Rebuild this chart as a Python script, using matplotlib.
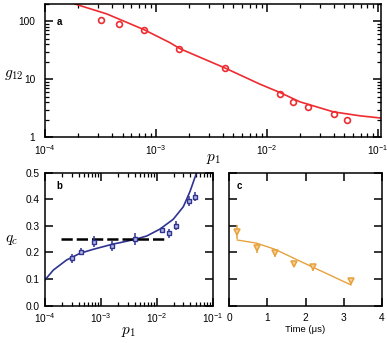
import matplotlib
matplotlib.use("Agg")
import numpy as np
import matplotlib.pyplot as plt
from matplotlib.ticker import (LogLocator, NullFormatter, MultipleLocator, FixedLocator,
                               FuncFormatter, FormatStrFormatter)

plt.rcParams['font.family'] = ['Liberation Sans', 'DejaVu Sans']
plt.rcParams['mathtext.fontset'] = 'cm'

# ---- Panel a data ----
a_p1 = [3.2e-4, 4.65e-4, 7.85e-4, 1.63e-3, 4.2e-3, 0.01315, 0.0171, 0.0234, 0.0401, 0.0525]
a_g12 = [108, 89.5, 71.7, 32.9, 15.5, 5.61, 4.09, 3.28, 2.54, 1.98]
a_fit_p1 = [1.86e-4, 3.6e-4, 7.85e-4, 1.34e-3, 1.65e-3, 4.2e-3, 8.7e-3, 0.01315, 0.0199, 0.0398, 0.069, 0.107]
a_fit_g12 = [200, 135, 71.8, 42.9, 33.8, 15.7, 8.24, 5.93, 4.09, 2.75, 2.35, 2.15]

# ---- Panel b data ----
b_p1 = [3.08e-4, 4.46e-4, 7.4e-4, 1.56e-3, 4.07e-3, 0.01225, 0.0163, 0.0218, 0.0372, 0.0482]
b_qc = [0.178, 0.203, 0.241, 0.224, 0.250, 0.285, 0.272, 0.301, 0.394, 0.410]
b_err = [0.018, 0.014, 0.021, 0.018, 0.022, 0.010, 0.018, 0.016, 0.020, 0.018]
b_fit_p1 = [1.0e-4, 1.41e-4, 2.44e-4, 4.23e-4, 7.3e-4, 1.67e-3, 2.2e-3, 4.37e-3, 6.6e-3,
            0.0114, 0.0197, 0.0298, 0.0392, 0.0525]
b_fit_qc = [0.097, 0.134, 0.172, 0.197, 0.212, 0.232, 0.237, 0.251, 0.262,
            0.288, 0.325, 0.372, 0.429, 0.505]
b_thresh_p1 = [1.93e-4, 0.0136]
b_thresh_q = [0.25, 0.25]

# ---- Panel c data ----
c_time = [0.21, 0.719, 1.20, 1.70, 2.205, 3.194]
c_qc = [0.278, 0.218, 0.199, 0.156, 0.144, 0.094]
c_err = [0.026, 0.019, 0.016, 0.012, 0.014, 0.005]
c_fit_time = [0.21, 0.719, 1.20, 1.70, 2.205, 2.687, 3.194]
c_fit_qc = [0.247, 0.235, 0.212, 0.178, 0.144, 0.112, 0.078]

red = '#ee2b30'
blue = '#2f3391'
orange = '#e7a23d'

W, H = 387, 343
fig = plt.figure(figsize=(W / 100, H / 100), dpi=100)

def frac(l, r, t, b):
    return [l / W, 1 - b / H, (r - l) / W, (b - t) / H]

ax_a = fig.add_axes(frac(45, 381, 4, 137.3))
ax_b = fig.add_axes(frac(45, 212.7, 172.7, 305.7))
ax_c = fig.add_axes(frac(229.3, 381.7, 172.7, 305.7))

logfmt = FuncFormatter(lambda v, pos: '$\\mathregular{10^{%d}}$' % int(round(np.log10(v))))

tick_fs = 7.3
for ax in (ax_a, ax_b, ax_c):
    for s in ax.spines.values():
        s.set_linewidth(1.1)
    ax.tick_params(which='both', direction='in', top=True, right=True,
                   labelsize=tick_fs, pad=4)
    ax.tick_params(which='major', length=5.5, width=1.1)
    ax.tick_params(which='minor', length=3, width=0.9)

# Panel a
ax_a.plot(a_fit_p1, a_fit_g12, color=red, lw=1.2)
ax_a.plot(a_p1, a_g12, 'o', ms=4.2, mfc='none', mec=red, mew=1.2)
ax_a.set_xscale('log')
ax_a.set_yscale('log')
ax_a.set_xlim(1e-4, 0.107)
ax_a.set_ylim(1, 200)
ax_a.xaxis.set_major_locator(LogLocator(base=10, numticks=10))
ax_a.xaxis.set_major_formatter(logfmt)
ax_a.xaxis.set_minor_locator(LogLocator(base=10, subs=range(2, 10), numticks=20))
ax_a.xaxis.set_minor_formatter(NullFormatter())
ax_a.yaxis.set_major_locator(FixedLocator([1, 10, 100]))
ax_a.yaxis.set_major_formatter(FuncFormatter(lambda v, pos: '%d' % round(v)))
ax_a.yaxis.set_minor_locator(LogLocator(base=10, subs=range(2, 10), numticks=20))
ax_a.yaxis.set_minor_formatter(NullFormatter())
ax_a.tick_params(axis='y', which='both', pad=7)
ax_a.tick_params(axis='x', which='both', pad=4)
ax_a.set_xlabel('$p_1$', fontsize=11, labelpad=-3)
ax_a.set_ylabel('$g_{12}$', fontsize=11, rotation=0)
ax_a.yaxis.set_label_coords(-0.092, 0.415)
ax_a.text(0.035, 0.845, 'a', transform=ax_a.transAxes, fontsize=7, fontweight='bold')

# Panel b
ax_b.plot(b_fit_p1, b_fit_qc, color=blue, lw=1.2)
ax_b.plot(b_thresh_p1, b_thresh_q, color='black', lw=1.8, dashes=(4.5, 1.6))
ax_b.errorbar(b_p1, b_qc, yerr=b_err, fmt='s', ms=3.2, mfc='#b4b7e2', mec=blue,
              mew=1.0, ecolor=blue, elinewidth=1.1, capsize=0)
ax_b.set_xscale('log')
ax_b.set_xlim(1e-4, 0.1)
ax_b.set_ylim(0, 0.5)
ax_b.xaxis.set_major_locator(LogLocator(base=10, numticks=10))
ax_b.xaxis.set_major_formatter(logfmt)
ax_b.xaxis.set_minor_locator(LogLocator(base=10, subs=range(2, 10), numticks=20))
ax_b.xaxis.set_minor_formatter(NullFormatter())
ax_b.yaxis.set_major_locator(MultipleLocator(0.1))
ax_b.yaxis.set_major_formatter(FormatStrFormatter('%.1f'))
ax_b.tick_params(axis='y', which='both', pad=4)
ax_b.set_xlabel('$p_1$', fontsize=11, labelpad=0)
ax_b.set_ylabel('$q_c$', fontsize=11, rotation=0)
ax_b.yaxis.set_label_coords(-0.2, 0.44)
ax_b.text(0.07, 0.88, 'b', transform=ax_b.transAxes, fontsize=7, fontweight='bold')

# Panel c
ax_c.plot(c_fit_time, c_fit_qc, color=orange, lw=1.0)
ax_c.errorbar(c_time, c_qc, yerr=c_err, fmt='v', ms=4.5, mfc='#f6cf94', mec=orange,
              mew=1.1, ecolor=orange, elinewidth=1.1, capsize=0)
ax_c.set_xlim(0, 4)
ax_c.set_ylim(0, 0.5)
ax_c.xaxis.set_major_locator(MultipleLocator(1))
ax_c.yaxis.set_major_locator(MultipleLocator(0.1))
ax_c.set_yticklabels([])
ax_c.tick_params(axis='x', which='both', pad=5)
ax_c.set_xlabel('Time (\u03bcs)', fontsize=6.8, labelpad=2)
ax_c.text(0.05, 0.88, 'c', transform=ax_c.transAxes, fontsize=7, fontweight='bold')

fig.savefig('out.png', dpi=100)
